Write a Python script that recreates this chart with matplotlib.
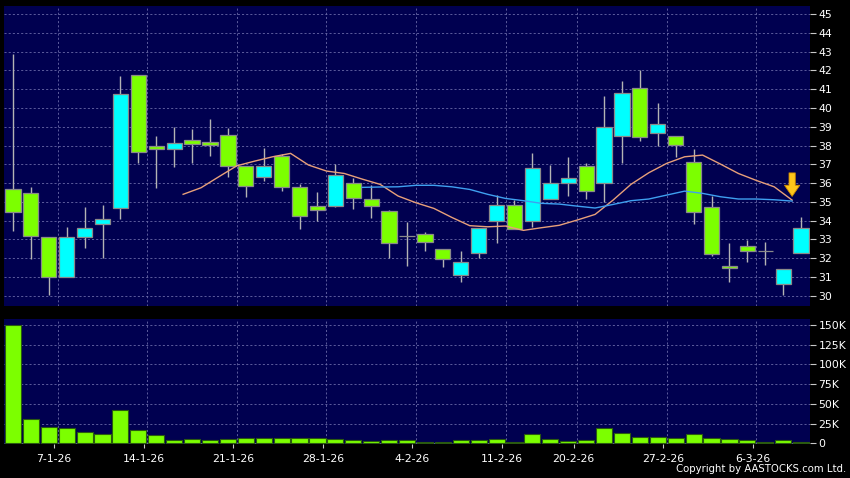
import numpy as np
import matplotlib
matplotlib.use('Agg')
import matplotlib.pyplot as plt

# Daily OHLC (2 Jan 2026 - 10 Mar 2026)
opens = [35.66, 35.45, 33.14, 30.98, 33.11, 33.82, 34.65, 41.73, 37.99, 37.79,
         38.27, 38.17, 38.57, 36.89, 36.30, 37.46, 35.80, 34.76, 34.76, 35.98,
         35.17, 34.49, 33.16, 33.27, 32.47, 31.08, 32.25, 33.98, 34.85, 33.98,
         35.13, 35.98, 36.89, 35.98, 38.48, 41.04, 38.64, 38.48, 37.14, 34.74,
         31.58, 32.66, 32.40, 30.62, 32.25]
highs = [42.87, 35.77, 33.14, 33.64, 34.70, 34.81, 41.70, 41.73, 38.50, 38.98,
         38.89, 39.41, 38.91, 36.89, 37.86, 37.54, 35.95, 35.50, 37.01, 36.28,
         35.88, 34.56, 33.94, 33.37, 32.47, 32.38, 33.62, 35.34, 35.08, 37.58,
         36.98, 37.38, 37.05, 40.63, 41.43, 42.02, 40.24, 38.48, 37.79, 35.31,
         32.79, 32.95, 32.84, 31.44, 34.21]
lows = [33.46, 31.97, 30.05, 30.98, 32.56, 32.02, 34.10, 37.08, 35.75, 36.87,
        37.06, 37.46, 36.34, 35.27, 36.11, 35.59, 33.57, 33.98, 34.70, 34.63,
        34.15, 31.99, 31.60, 32.40, 31.54, 30.74, 32.02, 32.82, 33.53, 33.67,
        35.13, 35.32, 35.17, 34.99, 37.06, 38.25, 37.99, 37.40, 33.83, 32.11,
        30.74, 31.77, 31.63, 30.05, 32.25]
closes = [34.45, 33.18, 30.98, 33.11, 33.59, 34.06, 40.77, 37.63, 37.79, 38.15,
          38.08, 38.02, 36.90, 35.82, 36.89, 35.77, 34.24, 34.58, 36.41, 35.18,
          34.76, 32.79, 33.16, 32.84, 31.93, 31.77, 33.62, 34.85, 33.57, 36.82,
          35.98, 36.25, 35.56, 38.96, 40.81, 38.45, 39.16, 38.01, 34.45, 32.20,
          31.47, 32.38, 32.40, 31.44, 33.62]

# volume in thousands of shares
volume_k = [150, 30.4, 21.1, 19.0, 14.8, 11.8, 42.7, 16.9, 10.6, 4.2,
            5.5, 3.8, 5.1, 6.8, 6.8, 6.3, 6.3, 6.3, 5.5, 4.2,
            3.4, 3.8, 3.8, 1.3, 2.1, 3.8, 3.8, 5.9, 1.7, 11.4,
            5.9, 3.0, 4.2, 19.4, 12.7, 8.5, 7.6, 6.8, 11.8, 6.3,
            5.9, 4.6, 1.7, 4.6, 2.1]

# moving averages as drawn (first point belongs to day 10 / day 20)
ma10 = [35.40, 35.75, 36.34, 36.92, 37.17, 37.40, 37.58, 36.96, 36.64, 36.51,
        36.21, 35.93, 35.31, 34.95, 34.65, 34.17, 33.73, 33.67, 33.71, 33.48,
        33.62, 33.75, 34.03, 34.33, 35.09, 35.93, 36.55, 37.05, 37.40, 37.49,
        37.01, 36.51, 36.14, 35.80, 35.09]
ma20 = [35.77, 35.79, 35.80, 35.88, 35.88, 35.80, 35.66, 35.40, 35.18, 35.06,
        34.92, 34.88, 34.77, 34.67, 34.86, 35.06, 35.15, 35.36, 35.57, 35.45,
        35.27, 35.15, 35.15, 35.11, 35.04]

date_labels = ['7-1-26', '14-1-26', '21-1-26', '28-1-26', '4-2-26',
               '11-2-26', '20-2-26', '27-2-26', '6-3-26']
date_index = [3, 8, 13, 18, 23, 28, 32, 37, 42]

BG = '#000050'
UP = '#00ffff'
DOWN = '#7cff00'
GRID = '#6a6aa8'

n = len(opens)
x = np.arange(n)
o = np.array(opens)
c = np.array(closes)

fig = plt.figure(figsize=(8.5, 4.78), dpi=100, facecolor='black')
ax = fig.add_axes([0.0047, 0.3598, 0.9483, 0.6276], facecolor=BG)
axv = fig.add_axes([0.0047, 0.0711, 0.9483, 0.2615], facecolor=BG)

# ---- price panel ----
colors = [UP if cc > oo else (DOWN if cc < oo else '#a0a0a0') for oo, cc in zip(o, c)]
ax.vlines(x, lows, highs, color='#b4b4b4', lw=1.0, zorder=2)
ax.bar(x, np.abs(c - o), bottom=np.minimum(o, c), width=0.85, color=colors,
       edgecolor='#8a8a8a', linewidth=0.9, zorder=3)

ma10_x = np.arange(len(ma10)) + (n - len(ma10)) - 0.5
ma20_x = np.arange(len(ma20)) + (n - len(ma20)) - 0.5
ax.plot(ma10_x, ma10, color='#e8a07a', lw=1.0, zorder=4)
ax.plot(ma20_x, ma20, color='#3fa0f0', lw=1.0, zorder=4)

# signal arrow above the last MA point
ax.annotate('', xy=(ma10_x[-1], ma10[-1] + 0.2), xytext=(ma10_x[-1], ma10[-1] + 1.45),
            arrowprops=dict(arrowstyle='simple,head_length=0.8,head_width=1.1,tail_width=0.45',
                            fc='#ffc61a', ec='#d08a00', lw=0.6, mutation_scale=10,
                            shrinkA=0, shrinkB=0),
            zorder=5)

ax.set_xlim(-0.5, n - 0.5)
ax.set_ylim(29.45, 45.43)
ax.set_yticks(range(30, 46))
ax.yaxis.tick_right()
ax.set_xticks([])
ax.grid(axis='y', ls=(0, (2.5, 2.5)), color=GRID, lw=0.6, zorder=0)
for i in date_index:
    ax.axvline(i - 0.5, ls=(0, (2.5, 2.5)), color=GRID, lw=0.6, zorder=0)

# ---- volume panel ----
axv.bar(x, np.array(volume_k) * 1000, width=0.9, color=DOWN, edgecolor='#2a5a10',
        linewidth=0.8, zorder=3)
axv.set_xlim(-0.5, n - 0.5)
axv.set_ylim(-900, 157600)
axv.set_yticks([0, 25000, 50000, 75000, 100000, 125000, 150000])
axv.set_yticklabels(['0', '25K', '50K', '75K', '100K', '125K', '150K'])
axv.yaxis.tick_right()
axv.grid(axis='y', ls=(0, (2.5, 2.5)), color=GRID, lw=0.6, zorder=0)
for i in date_index:
    axv.axvline(i - 0.5, ls=(0, (2.5, 2.5)), color=GRID, lw=0.6, zorder=0)
axv.set_xticks([i - 0.7 for i in date_index])
axv.set_xticklabels(date_labels)

for a in (ax, axv):
    for s in a.spines.values():
        s.set_visible(False)
    a.tick_params(axis='y', colors='white', labelsize=7.8, length=4, width=0.8,
                  pad=2, direction='out')
    a.tick_params(axis='y', which='both', color='#c8c8c8')
axv.tick_params(axis='x', colors='white', labelsize=7.8, length=3, width=0.8,
                pad=4, color='#c8c8c8')

fig.text(0.995, 0.008, 'Copyright by AASTOCKS.com Ltd.', color='white',
         fontsize=7.3, ha='right', va='bottom')

plt.savefig('out.png', dpi=100, facecolor='black')
